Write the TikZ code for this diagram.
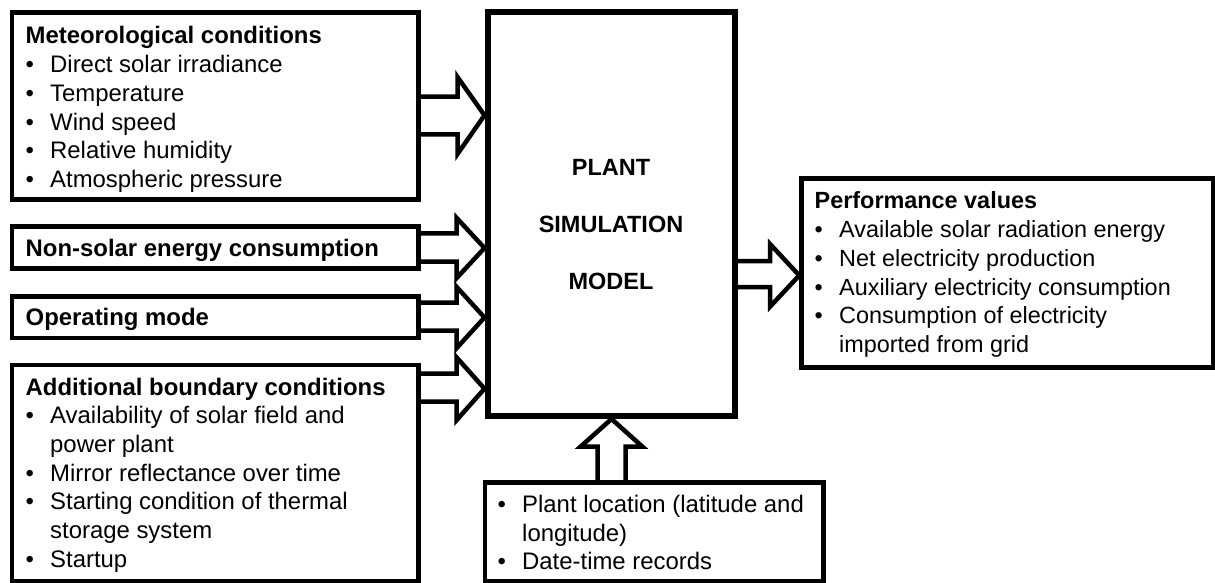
\documentclass[tikz,border=0pt]{standalone}
\usepackage{fontspec}
\setmainfont{Liberation Sans}
\newcommand\blist[1]{\vtop{\hsize=600pt\parindent=0pt\raggedright #1}}
\newcommand\bitem[1]{\hangindent=24.5pt\hangafter=1\leavevmode\hbox to 24.5pt{\textbullet\hfil}#1\par}
\newcommand\bhead[1]{\leavevmode{\bfseries #1}\par}
\begin{document}
\begin{tikzpicture}[x=1pt,y=-1pt,
  box/.style={draw, line width=4.5pt, rectangle, inner sep=0pt},
  mainbox/.style={draw, line width=6pt, rectangle, inner sep=0pt},
  txt/.style={anchor=base west, inner sep=0pt, font=\fontsize{23.9}{28.7}\selectfont},
  ptxt/.style={txt, font=\fontsize{23.4}{28.9}\selectfont},
  maintxt/.style={anchor=base, inner sep=0pt, font=\bfseries\fontsize{23.5}{57}\selectfont},
  barrow/.style={draw, line width=4.5pt, line join=miter, miter limit=10}]
\useasboundingbox (0,0) rectangle (1215,583);

% boxes
\node[box, minimum width=406.5, minimum height=187] (met) at (215.25,106) {};
\node[box, minimum width=406.5, minimum height=42] (nonsolar) at (215.25,247.5) {};
\node[box, minimum width=406.5, minimum height=41.5] (opmode) at (215.25,317.25) {};
\node[box, minimum width=406.5, minimum height=216] (addl) at (215.25,473) {};
\node[mainbox, minimum width=247, minimum height=403.5] (main) at (611,214.25) {};
\node[box, minimum width=411.5, minimum height=188.8] (perf) at (1007.25,273.1) {};
\node[box, minimum width=338.3, minimum height=98.5] (bot) at (654.15,531.75) {};

% texts
\node[txt] (mettxt) at (25.5,44) {\blist{%
  \bhead{Meteorological conditions}%
  \bitem{Direct solar irradiance}%
  \bitem{Temperature}%
  \bitem{Wind speed}%
  \bitem{Relative humidity}%
  \bitem{Atmospheric pressure}}};
\node[txt] (nstxt) at (25.5,256) {\bfseries Non-solar energy consumption};
\node[txt] (optxt) at (25.5,325) {\bfseries Operating mode};
\node[txt] (addtxt) at (25.5,395) {\blist{%
  \bhead{Additional boundary conditions}%
  \bitem{Availability of solar field and\newline power plant}%
  \bitem{Mirror reflectance over time}%
  \bitem{Starting condition of thermal\newline storage system}%
  \bitem{Startup}}};
\node[ptxt] (perftxt) at (814.5,208.3) {\blist{%
  \bhead{Performance values}%
  \bitem{Available solar radiation energy}%
  \bitem{Net electricity production}%
  \bitem{Auxiliary electricity consumption}%
  \bitem{Consumption of electricity\newline imported from grid}}};
\node[txt] (bottxt) at (497.5,512.3) {\blist{%
  \bitem{Plant location (latitude and\newline longitude)}%
  \bitem{Date-time records}}};
\node[maintxt] (maintext) at (611,175.7) {\vtop{\halign{\hfil#\hfil\cr PLANT\cr SIMULATION\cr MODEL\cr}}};

% block arrows
\draw[barrow] (met.east |- 0,96.7) -- (457.5,96.7) -- (457.5,77) -- (main.west |- 0,115.3)
  -- (457.5,154) -- (457.5,134.5) -- (met.east |- 0,134.5);
\draw[barrow] (nonsolar.east |- 0,233.3) -- (456.7,233.3) -- (456.7,218) -- (main.west |- 0,248)
  -- (456.7,278) -- (456.7,261.7) -- (nonsolar.east |- 0,261.7);
\draw[barrow] (opmode.east |- 0,302.5) -- (456.7,302.5) -- (456.7,287) -- (main.west |- 0,317.5)
  -- (456.7,348) -- (456.7,330.5) -- (opmode.east |- 0,330.5);
\draw[barrow] (addl.east |- 0,373.5) -- (456.7,373.5) -- (456.7,357.5) -- (main.west |- 0,388.7)
  -- (456.7,420) -- (456.7,401.7) -- (addl.east |- 0,401.7);
\draw[barrow] (bot.north -| 597.5,0) -- (597.5,446.7) -- (580.5,446.7) -- (main.south -| 611.5,0)
  -- (642.5,446.7) -- (625.5,446.7) -- (bot.north -| 625.5,0);
\draw[barrow] (main.east |- 0,261) -- (770,261) -- (770,244) -- (perf.west |- 0,275.4)
  -- (770,306.7) -- (770,287.2) -- (main.east |- 0,287.2);
\end{tikzpicture}
\end{document}
